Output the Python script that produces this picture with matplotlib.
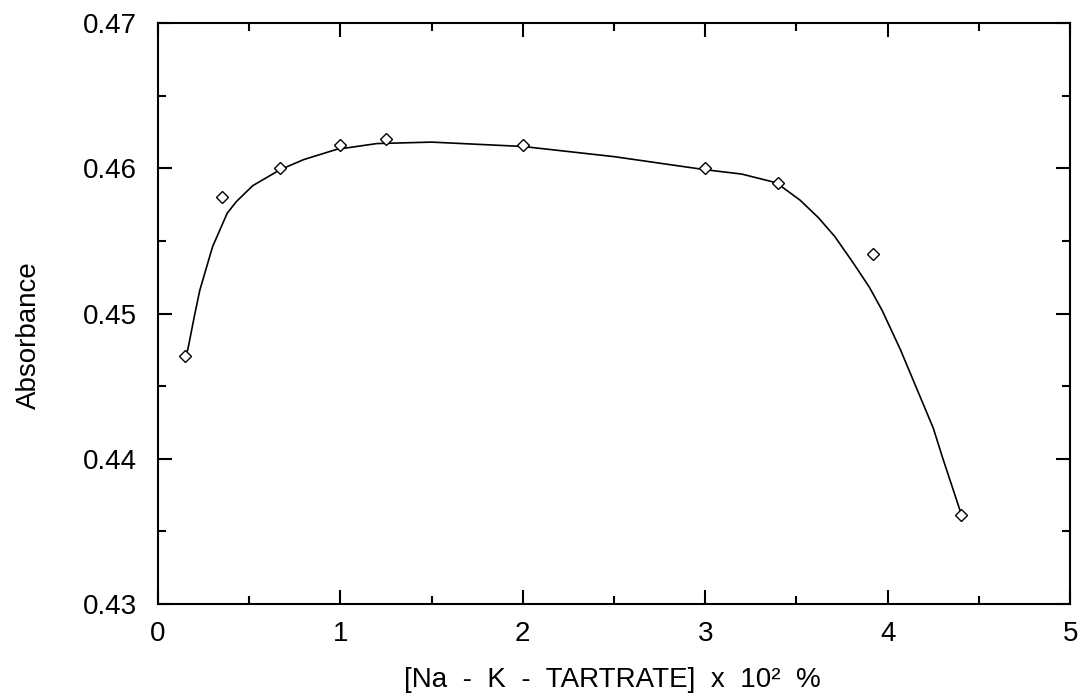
import numpy as np
import matplotlib.pyplot as plt
from matplotlib.ticker import MultipleLocator

# measured points
conc = [0.15, 0.35, 0.67, 1.0, 1.25, 2.0, 3.0, 3.4, 3.92, 4.4]
absorb = [0.4471, 0.4580, 0.4600, 0.4616, 0.4620, 0.4616, 0.4600, 0.4590, 0.4541, 0.4361]

# fitted curve
fit_x = [0.15, 0.164, 0.20, 0.23, 0.30, 0.38, 0.43, 0.52, 0.67, 0.80, 0.98, 1.2, 1.5,
         2.0, 2.5, 3.0, 3.2, 3.39, 3.52, 3.62, 3.71, 3.81, 3.90, 3.97, 4.07, 4.16, 4.25, 4.30, 4.40]
fit_y = [0.4471, 0.4475, 0.4498, 0.4516, 0.4546, 0.4569, 0.4577, 0.4588, 0.4599, 0.4606,
         0.4613, 0.4617, 0.4618, 0.4615, 0.4608, 0.4599, 0.4596, 0.4590, 0.4578, 0.4566,
         0.4553, 0.4535, 0.4518, 0.4502, 0.4475, 0.4448, 0.4421, 0.4401, 0.4363]

plt.rcParams['font.family'] = ['Liberation Sans', 'DejaVu Sans']

fig = plt.figure(figsize=(10.81, 6.97), dpi=100)
ax = fig.add_axes([0.146, 0.1334, 0.844, 0.8336])

ax.plot(fit_x, fit_y, color='black', lw=1.2)
ax.plot(conc, absorb, linestyle='none', marker='D', markersize=6.5,
        markerfacecolor='white', markeredgecolor='black', markeredgewidth=1.0)

ax.set_xlim(0, 5)
ax.set_ylim(0.43, 0.47)
ax.xaxis.set_major_locator(MultipleLocator(1))
ax.xaxis.set_minor_locator(MultipleLocator(0.5))
ax.yaxis.set_major_locator(MultipleLocator(0.01))
ax.yaxis.set_minor_locator(MultipleLocator(0.005))
ax.yaxis.set_major_formatter(plt.FuncFormatter(lambda v, p: f"{v:.2f}"))

ax.tick_params(which='major', direction='in', length=10, width=1.5,
               top=True, right=True, labelsize=20)
ax.tick_params(which='minor', direction='in', length=6, width=1.5,
               top=True, right=True)
ax.tick_params(axis='y', which='major', pad=15)
ax.tick_params(axis='x', which='major', pad=12)
for s in ax.spines.values():
    s.set_linewidth(1.5)

ax.set_xlabel("[Na  -  K  -  TARTRATE]  x  10²  %", fontsize=20)
ax.set_ylabel("Absorbance", fontsize=20)
ax.xaxis.set_label_coords(0.498, -0.108)
ax.yaxis.set_label_coords(-0.127, 0.463)

fig.savefig("out.png", dpi=100)
